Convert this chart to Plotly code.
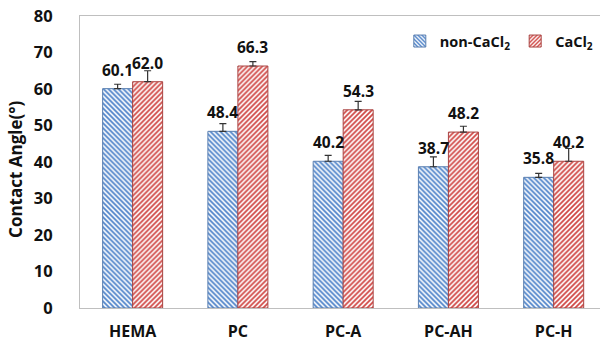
import plotly.graph_objects as go

# Contact angle of hydrogel samples, with and without CaCl2
categories = ["HEMA", "PC", "PC-A", "PC-AH", "PC-H"]
non_cacl2 = [60.1, 48.4, 40.2, 38.7, 35.8]
non_cacl2_err = [1.2, 2.1, 1.6, 2.7, 1.1]
cacl2 = [62.0, 66.3, 54.3, 48.2, 40.2]
cacl2_err = [3.0, 1.2, 2.3, 1.6, 3.5]
y_ticks = [0, 10, 20, 30, 40, 50, 60, 70, 80]

FONT = "Open Sans"
TXT = "#111111"

series = [
    ("non-CaCl<sub>2</sub>", non_cacl2, non_cacl2_err, "#4a80c8", "#5a7fb0", "\\"),
    ("CaCl<sub>2</sub>", cacl2, cacl2_err, "#d04845", "#a94442", "/"),
]

fig = go.Figure()
for name, vals, errs, fg, edge, shape in series:
    fig.add_trace(go.Bar(
        name=name,
        x=categories,
        y=vals,
        marker=dict(
            color="white",
            line=dict(color=edge, width=1),
            pattern=dict(shape=shape, fgcolor=fg, bgcolor="white",
                         size=3.5, solidity=0.5, fillmode="replace"),
        ),
        error_y=dict(type="data", array=errs, arrayminus=[0] * len(errs),
                     symmetric=False, color="#333333", thickness=1.2, width=3.5),
    ))

# Value labels above each bar
annotations = []
for i, (name, vals, errs, fg, edge, shape) in enumerate(series):
    shift = -15 if i == 0 else 15
    for cat, v in zip(categories, vals):
        annotations.append(dict(
            x=cat, y=v, xref="x", yref="y", text=f"<b>{v:.1f}</b>",
            showarrow=False, xshift=shift, yshift=6, yanchor="bottom",
            font=dict(family=FONT, size=15.5, color=TXT),
        ))

# Y-axis title
annotations.append(dict(
    x=-0.123, y=0.473, xref="paper", yref="paper", text="<b>Contact Angle(°)</b>",
    textangle=-90, showarrow=False, xanchor="center", yanchor="middle",
    font=dict(family=FONT, size=17, color=TXT),
))

fig.update_layout(
    width=600, height=343,
    margin=dict(l=80, r=0, t=16, b=35),
    paper_bgcolor="white", plot_bgcolor="white",
    barmode="group", bargap=0.43, bargroupgap=0,
    font=dict(family=FONT, color=TXT),
    annotations=annotations,
    legend=dict(
        orientation="h", x=0.615, y=0.914, xanchor="left", yanchor="middle",
        bgcolor="rgba(0,0,0,0)",
        font=dict(family=FONT, size=14.5, color=TXT, weight="bold"),
        itemwidth=30,
    ),
    xaxis=dict(
        range=[-0.5, 4.44], automargin=False,
        showline=True, linecolor="#bfbfbf", linewidth=1, mirror=True,
        showgrid=False, ticks="", ticklabelstandoff=9,
        tickfont=dict(family=FONT, size=16, color=TXT, weight="bold"),
    ),
    yaxis=dict(
        range=[0, 80], tickvals=y_ticks, automargin=False,
        showline=True, linecolor="#bfbfbf", linewidth=1, mirror=True,
        showgrid=False, zeroline=False, ticks="", ticklabelstandoff=23,
        tickfont=dict(family=FONT, size=16.5, color=TXT, weight="bold"),
    ),
)

fig.write_html("out.html")
